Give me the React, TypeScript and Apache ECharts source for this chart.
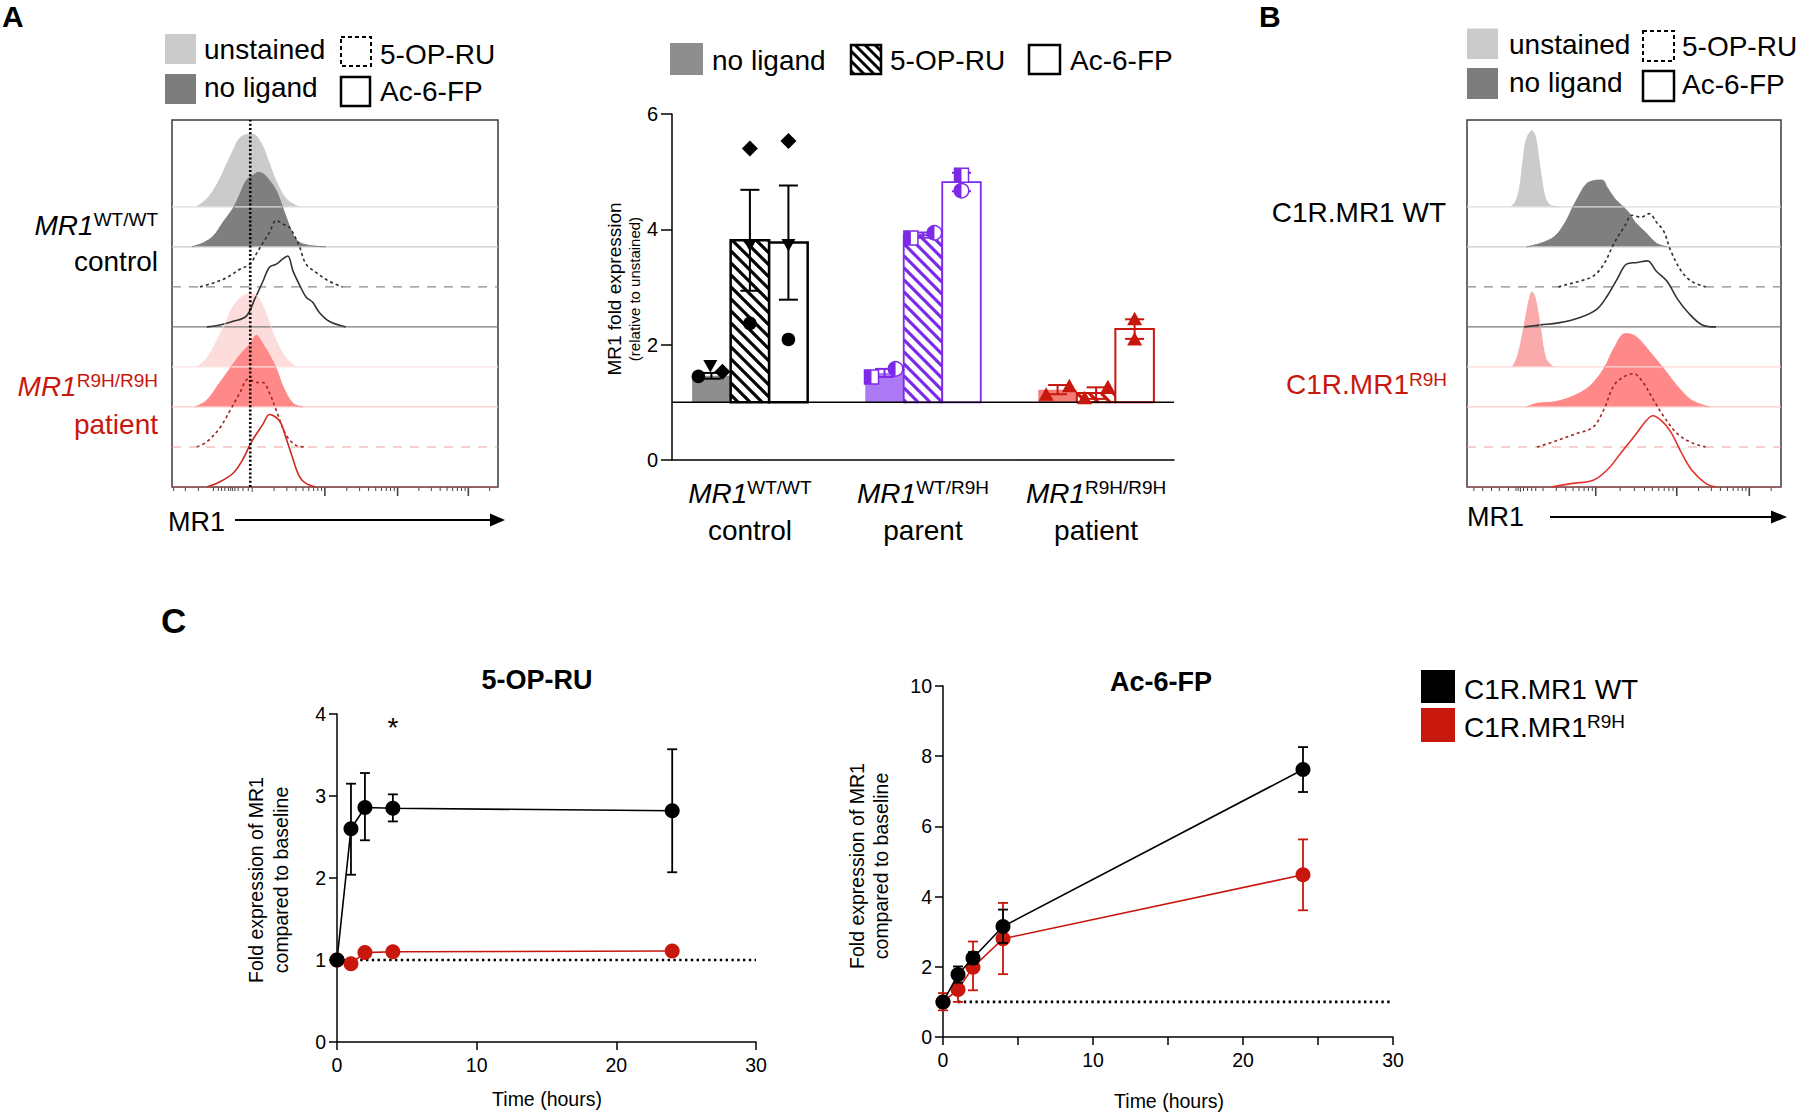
import React, { useEffect, useRef } from 'react';
import * as echarts from 'echarts';

const FONT = '"Liberation Sans", Arial, Helvetica, sans-serif';
const RED = '#c8170d';
const PURPLE = '#7d2ae8';

// ---------------- Panel A : flow histograms (x = position on MR1 logicle axis 0-100, h = height in lane units)
const aUnstainedX = [7.6, 10.7, 13.7, 16.8, 18.8, 20.8, 23.4, 24.9, 25.9, 27.9, 29.9, 32.0, 35.0, 38.1, 39.1];
const aUnstainedH = [0, 0.2, 0.55, 1.07, 1.42, 1.72, 1.81, 1.81, 1.77, 1.5, 1.07, 0.63, 0.2, 0.03, 0];
const aNoLigandX = [6.1, 9.6, 12.7, 15.7, 18.8, 20.8, 22.8, 24.9, 26.4, 27.9, 29.9, 32.0, 34.0, 36.0, 38.1, 41.1, 47.2];
const aNoLigandH = [0, 0.1, 0.27, 0.62, 0.97, 1.31, 1.66, 1.79, 1.86, 1.83, 1.66, 1.4, 0.97, 0.53, 0.18, 0.05, 0];
const aOpruX = [8.6, 12.7, 16.8, 20.8, 23.9, 25.9, 27.9, 29.9, 32.0, 34.0, 36.0, 37.6, 39.1, 41.1, 44.2, 48.2, 52.3];
const aOpruH = [0, 0.1, 0.23, 0.44, 0.57, 0.83, 1.1, 1.36, 1.66, 1.57, 1.49, 1.27, 1.01, 0.57, 0.36, 0.14, 0];
const aAc6fpX = [10.7, 14.7, 18.8, 22.8, 25.4, 27.9, 29.9, 32.0, 34.0, 35.5, 37.1, 39.1, 41.1, 43.1, 45.2, 48.2, 53.3];
const aAc6fpH = [0, 0.05, 0.14, 0.27, 0.7, 1.14, 1.49, 1.57, 1.7, 1.77, 1.4, 1.05, 0.75, 0.62, 0.36, 0.14, 0];
const aR9hUnstainedX = [7.6, 10.7, 13.7, 16.8, 18.8, 21.8, 23.9, 25.9, 27.9, 29.9, 32.0, 35.0, 38.1];
const aR9hUnstainedH = [0, 0.22, 0.65, 1.17, 1.52, 1.78, 1.83, 1.78, 1.52, 1.09, 0.65, 0.22, 0];
const aR9hNoLigandX = [7.1, 10.7, 14.7, 17.8, 20.8, 23.9, 25.9, 27.9, 29.9, 32.0, 34.0, 37.1, 40.1];
const aR9hNoLigandH = [0, 0.17, 0.61, 0.96, 1.3, 1.57, 1.79, 1.57, 1.3, 0.96, 0.52, 0.09, 0];
const aR9hOpruX = [7.6, 10.7, 14.7, 17.8, 20.8, 23.4, 25.9, 27.9, 29.9, 32.0, 35.0, 38.1, 41.1];
const aR9hOpruH = [0, 0.13, 0.48, 0.91, 1.35, 1.7, 1.61, 1.61, 1.35, 0.91, 0.3, 0.04, 0];
const aR9hAc6fpX = [10.7, 14.7, 18.8, 21.8, 24.4, 27.9, 29.9, 33.0, 35.0, 37.1, 39.1, 41.1, 44.2];
const aR9hAc6fpH = [0, 0.13, 0.35, 0.7, 1.13, 1.57, 1.81, 1.65, 1.22, 0.7, 0.26, 0.09, 0];
const aDottedRef = 24;
const aLinearTicks = [0.5, 4.1, 8.1, 12.7, 14.2, 15.2, 16.2, 17.3, 18.0, 18.6, 19.3, 20.3, 21.8, 23.4];
const aDecades = [24.6, 46.9, 69.2, 90.9];
const aDecadeWidths = [22.3, 22.3, 21.7, 21.7];
const aMajorTicks = [46.9, 69.2, 90.9];

// ---------------- Panel B : flow histograms
const bUnstainedX = [14.0, 15.6, 16.8, 17.9, 19.0, 20.7, 21.8, 22.9, 24.0, 25.1, 26.8, 29.1];
const bUnstainedH = [0, 0.15, 0.5, 1.19, 1.71, 1.9, 1.75, 1.19, 0.58, 0.19, 0.03, 0];
const bNoLigandX = [19.0, 23.5, 27.9, 31.3, 33.5, 35.8, 38.0, 40.2, 43.0, 44.7, 46.9, 49.2, 51.4, 53.6, 57.0, 60.3, 63.7];
const bNoLigandH = [0, 0.09, 0.26, 0.61, 0.96, 1.3, 1.57, 1.65, 1.67, 1.48, 1.22, 1.04, 0.87, 0.61, 0.35, 0.09, 0];
const bOpruX = [29.1, 31.3, 35.8, 40.2, 43.6, 46.9, 50.3, 52.5, 55.3, 58.1, 60.3, 62.6, 64.8, 68.2, 71.5, 76.0];
const bOpruH = [0, 0.05, 0.14, 0.27, 0.57, 1.1, 1.53, 1.79, 1.74, 1.83, 1.62, 1.4, 0.92, 0.4, 0.14, 0];
const bAc6fpX = [17.9, 23.5, 29.1, 35.8, 41.3, 44.7, 48.0, 50.8, 54.2, 57.5, 60.3, 63.7, 67.0, 70.4, 74.9, 79.3];
const bAc6fpH = [0, 0.05, 0.1, 0.23, 0.44, 0.78, 1.22, 1.57, 1.61, 1.65, 1.39, 1.14, 0.7, 0.36, 0.05, 0];
const bR9hUnstainedX = [14.5, 16.2, 17.9, 19.6, 20.7, 21.8, 23.5, 25.1, 27.4];
const bR9hUnstainedH = [0, 0.3, 0.91, 1.61, 1.87, 1.7, 0.91, 0.22, 0];
const bR9hNoLigandX = [19.0, 22.3, 27.9, 33.5, 39.1, 43.6, 46.9, 50.3, 52.5, 54.7, 58.1, 62.6, 67.0, 71.5, 77.1];
const bR9hNoLigandH = [0, 0.09, 0.13, 0.26, 0.52, 0.96, 1.48, 1.83, 1.81, 1.7, 1.39, 0.96, 0.52, 0.17, 0];
const bR9hOpruX = [22.3, 26.8, 34.6, 40.2, 43.6, 46.9, 50.3, 53.1, 55.9, 59.2, 62.6, 67.0, 71.5, 76.0];
const bR9hOpruH = [0, 0.11, 0.33, 0.5, 0.94, 1.55, 1.77, 1.83, 1.63, 1.2, 0.77, 0.33, 0.11, 0];
const bR9hAc6fpX = [26.8, 33.5, 40.2, 44.7, 49.2, 53.6, 57.0, 59.2, 62.0, 64.8, 68.2, 71.5, 76.0, 79.3];
const bR9hAc6fpH = [0, 0.09, 0.17, 0.43, 0.87, 1.3, 1.65, 1.78, 1.65, 1.39, 0.87, 0.43, 0.09, 0];
const bLinearTicks = [2.2, 5.0, 7.8, 10.3, 13.2, 15.6, 16.3, 18.0, 19.3, 20.6, 21.9];
const bDecades = [17.0, 41.0, 66.8, 89.9];
const bDecadeWidths = [24.0, 25.8, 23.1, 23.1];
const bMajorTicks = [41.0, 66.8, 89.9];

// ---------------- Panel A : bar chart
const barGroups = ['control', 'parent', 'patient'];
const barGenotypes = ['WT/WT', 'WT/R9H', 'R9H/R9H'];
const barNoLigand = [1.46, 1.51, 1.22];
const barOpru = [3.81, 3.9, 1.16];
const barAc6fp = [3.77, 4.82, 2.27];
const semNoLigand = [0.05, 0.07, 0.08];
const semOpru = [0.875, 0.045, 0.1];
const semAc6fp = [0.99, 0.16, 0.17];
// one value per donor, in the order of donorSymbols
const dotsNoLigand = [[1.45, 1.63, 1.53], [1.44, 1.58], [1.13, 1.28]];
const dotsOpru = [[2.37, 3.73, 5.4], [3.85, 3.94], [1.07, 1.26]];
const dotsAc6fp = [[2.09, 3.73, 5.53], [4.94, 4.67], [2.44, 2.09]];
const jitNoLigand = [[-0.075, -0.006, 0.064], [-0.075, 0.064], [-0.066, 0.068]];
const jitOpru = [[0, 0, 0], [-0.07, 0.066], [-0.066, 0.068]];
const jitAc6fp = [[0, 0, 0], [0, 0], [0, 0]];
const donorSymbols = [['circle', 'triangleDown', 'diamond'], ['halfSquare', 'halfCircle'], ['triangle', 'triangle']];
const FOLD_BASE = 1;

// ---------------- Panel C : time courses
const timeHours = [0, 1, 2, 4, 24];
const opruWT = [1.0, 2.6, 2.86, 2.85, 2.82];
const opruWTLow = [1.0, 2.04, 2.46, 2.69, 2.07];
const opruWTHigh = [1.0, 3.15, 3.28, 3.02, 3.57];
const opruR9H = [1.0, 0.955, 1.09, 1.1, 1.11];
const opruR9HLow = [1.0, 0.93, 1.06, 1.07, 1.08];
const opruR9HHigh = [1.0, 0.98, 1.12, 1.13, 1.14];
const acWT = [1.0, 1.78, 2.25, 3.15, 7.62];
const acWTLow = [0.95, 1.55, 2.08, 2.68, 6.98];
const acWTHigh = [1.05, 2.01, 2.42, 3.63, 8.26];
const acR9H = [1.0, 1.35, 1.99, 2.8, 4.62];
const acR9HLow = [0.76, 1.0, 1.33, 1.79, 3.61];
const acR9HHigh = [1.25, 1.55, 2.72, 3.82, 5.63];
const starTime = 4;
const starValue = 3.91;
const refLeft = [[0, 1], [30, 1]];
const refRight = [[1, 1], [30, 1]];

// ---------------- layout constants
const HIST_X_MAX = 100;
const HIST_Y_MAX = 9.17;
const BAR_SLOT = 0.2225;
const BAR_X_MIN = -0.45;
const BAR_X_MAX = 2.45;

const SYMBOL_CODE: Record<string, number> = { circle: 0, triangleDown: 1, diamond: 2, halfSquare: 3, halfCircle: 4, triangle: 5 };
const groupLine = ['#000000', PURPLE, RED];
const groupNoLigandFill = ['#8e8e8e', '#ad7af6', '#f47c78'];
const groupStroke = [2.5, 1.8, 2];

function hatch(x0: number, y0: number, w: number, h: number, spacing: number, color: string, lw: number) {
  const out: any[] = [];
  const cMin = y0 - (x0 + w);
  const cMax = y0 + h - x0;
  for (let c = Math.ceil(cMin / spacing) * spacing; c <= cMax; c += spacing) {
    const xs = Math.max(x0, y0 - c);
    const xe = Math.min(x0 + w, y0 + h - c);
    if (xe > xs) out.push({ type: 'line', shape: { x1: xs, y1: xs + c, x2: xe, y2: xe + c }, style: { stroke: color, lineWidth: lw } });
  }
  return out;
}

function logicleTicks(linear: number[], decades: number[], widths: number[], majors: number[]) {
  const t: number[][] = [];
  linear.forEach((v) => t.push([v, 4, 1]));
  decades.forEach((d, i) => {
    t.push([d, majors.includes(d) ? 9 : 5, majors.includes(d) ? 1.6 : 1]);
    for (let m = 2; m <= 9; m++) {
      const v = d + Math.log10(m) * widths[i];
      if (v < HIST_X_MAX) t.push([v, 4, 1]);
    }
  });
  return t;
}

function histSeries(xi: number, yi: number, curves: { xs: number[]; hs: number[]; st: any }[]) {
  const out: any[] = [];
  curves.forEach((c, i) => {
    const lane = 7 - i;
    const st = c.st;
    out.push({
      type: 'line', xAxisIndex: xi, yAxisIndex: yi, silent: true, symbol: 'none',
      data: [[0, lane], [HIST_X_MAX, lane]],
      lineStyle: { color: st.base, width: 1.2, type: st.baseDash || 'solid' },
    });
    out.push({
      type: 'line', xAxisIndex: xi, yAxisIndex: yi, silent: true, symbol: 'none', smooth: 0.35,
      data: c.xs.map((x, k) => [x, lane + c.hs[k]]),
      lineStyle: st.fill ? { color: st.fill, width: 1 } : { color: st.line, width: 1.6, type: st.dash || 'solid' },
      areaStyle: st.fill ? { color: st.fill, opacity: 1, origin: lane } : undefined,
    });
  });
  return out;
}

function tickSeries(xi: number, yi: number, ticks: number[][]) {
  return {
    type: 'custom', xAxisIndex: xi, yAxisIndex: yi, clip: false, silent: true, data: ticks,
    renderItem: (p: any, api: any) => {
      const pt = api.coord([api.value(0), 0]);
      return { type: 'line', shape: { x1: pt[0], y1: pt[1], x2: pt[0], y2: pt[1] + api.value(1) }, style: { stroke: '#444', lineWidth: api.value(2) } };
    },
  };
}

function errSeries(xi: number, yi: number, ts: number[], lo: number[], hi: number[], color: string, cap: number, z: number) {
  return {
    type: 'custom', xAxisIndex: xi, yAxisIndex: yi, clip: false, silent: true, z,
    data: ts.map((t, i) => [t, lo[i], hi[i]]),
    renderItem: (p: any, api: any) => {
      const a = api.coord([api.value(0), api.value(1)]);
      const b = api.coord([api.value(0), api.value(2)]);
      const s = { stroke: color, lineWidth: 1.8 };
      return {
        type: 'group', children: [
          { type: 'line', shape: { x1: a[0], y1: a[1], x2: b[0], y2: b[1] }, style: s },
          { type: 'line', shape: { x1: a[0] - cap / 2, y1: a[1], x2: a[0] + cap / 2, y2: a[1] }, style: s },
          { type: 'line', shape: { x1: b[0] - cap / 2, y1: b[1], x2: b[0] + cap / 2, y2: b[1] }, style: s },
        ],
      };
    },
  };
}

function lineSeries(xi: number, yi: number, ts: number[], vs: number[], color: string, z: number) {
  return {
    type: 'line', xAxisIndex: xi, yAxisIndex: yi, silent: true, z,
    data: ts.map((t, i) => [t, vs[i]]),
    symbol: 'circle', symbolSize: 15,
    itemStyle: { color, borderWidth: 0 },
    lineStyle: { color, width: 1.6 },
  };
}

function gText(text: string, x: number, y: number, o: any = {}) {
  return {
    type: 'text', x, y, rotation: o.rotation || 0, silent: true, z: 100,
    style: {
      text, x: 0, y: 0, fill: o.color || '#000', fontSize: o.size || 28, fontFamily: FONT,
      fontWeight: o.weight || 'normal', fontStyle: o.italic ? 'italic' : 'normal',
      align: o.align || 'left', verticalAlign: o.va || 'middle',
      textAlign: o.align || 'left', textVerticalAlign: o.va || 'middle',
      rich: o.rich,
    },
  };
}

function supRich(color: string, big: number, small: number) {
  return {
    it: { fontSize: big, fontStyle: 'italic', fontFamily: FONT, fill: color, color, lineHeight: big + 2 },
    n: { fontSize: big, fontFamily: FONT, fill: color, color, lineHeight: big + 2 },
    sup: { fontSize: small, fontFamily: FONT, fill: color, color, verticalAlign: 'top', lineHeight: small + 3 },
  };
}

function gRect(x: number, y: number, w: number, h: number, style: any) {
  return { type: 'rect', shape: { x, y, width: w, height: h }, style, silent: true, z: 100 };
}

function buildOption() {
  const stA = [
    { fill: '#cbcbcb', base: '#dcdcdc' },
    { fill: '#7f7f7f', base: '#c9c9c9' },
    { line: '#2e2e2e', dash: [3, 3], base: '#8a8a8a', baseDash: [9, 8] },
    { line: '#333333', base: '#7a7a7a' },
    { fill: '#fddcdc', base: '#fde4e4' },
    { fill: '#ff8888', base: '#fcc9c9' },
    { line: '#a3241c', dash: [3, 3], base: '#eea0a0', baseDash: [9, 8] },
    { line: '#cc2a20', base: '#e06060' },
  ];
  const stB = stA.map((s, i) => (i === 4 ? { fill: '#faaaaa', base: '#fcd6d6' } : i === 7 ? { line: '#e2332b', base: '#e06060' } : s));

  const curvesA = [
    [aUnstainedX, aUnstainedH], [aNoLigandX, aNoLigandH], [aOpruX, aOpruH], [aAc6fpX, aAc6fpH],
    [aR9hUnstainedX, aR9hUnstainedH], [aR9hNoLigandX, aR9hNoLigandH], [aR9hOpruX, aR9hOpruH], [aR9hAc6fpX, aR9hAc6fpH],
  ].map((c, i) => ({ xs: c[0], hs: c[1], st: stA[i] }));
  const curvesB = [
    [bUnstainedX, bUnstainedH], [bNoLigandX, bNoLigandH], [bOpruX, bOpruH], [bAc6fpX, bAc6fpH],
    [bR9hUnstainedX, bR9hUnstainedH], [bR9hNoLigandX, bR9hNoLigandH], [bR9hOpruX, bR9hOpruH], [bR9hAc6fpX, bR9hAc6fpH],
  ].map((c, i) => ({ xs: c[0], hs: c[1], st: stB[i] }));

  // bar chart data
  const conds = [barNoLigand, barOpru, barAc6fp];
  const sems = [semNoLigand, semOpru, semAc6fp];
  const dots = [dotsNoLigand, dotsOpru, dotsAc6fp];
  const jits = [jitNoLigand, jitOpru, jitAc6fp];
  const barData: number[][] = [];
  const errData: number[][] = [];
  const dotData: number[][] = [];
  barGroups.forEach((_, g) => {
    conds.forEach((vals, c) => {
      const x = g + (c - 1) * BAR_SLOT;
      barData.push([x, vals[g], c, g]);
      errData.push([x, vals[g], sems[c][g], g]);
      dots[c][g].forEach((v, k) => dotData.push([x + jits[c][g][k], v, SYMBOL_CODE[donorSymbols[g][k]], g]));
    });
  });

  const axisLine = { show: true, onZero: false, lineStyle: { color: '#000', width: 1.5 } };
  const axisTick = (len: number) => ({ show: true, length: len, lineStyle: { color: '#000', width: 1.5 } });
  const lbl = (size: number, margin: number) => ({ fontSize: size, margin, color: '#000', fontFamily: FONT });
  const hidden = (gi: number, min: number, max: number) => ({ gridIndex: gi, type: 'value', min, max, show: false });

  const series: any[] = [
    ...histSeries(0, 0, curvesA),
    tickSeries(0, 0, logicleTicks(aLinearTicks, aDecades, aDecadeWidths, aMajorTicks)),
    {
      type: 'line', xAxisIndex: 0, yAxisIndex: 0, silent: true, symbol: 'none', z: 5,
      data: [[aDottedRef, 0], [aDottedRef, HIST_Y_MAX]],
      lineStyle: { color: '#000', width: 2.6, type: [2, 2.2] },
    },
    ...histSeries(2, 2, curvesB),
    tickSeries(2, 2, logicleTicks(bLinearTicks, bDecades, bDecadeWidths, bMajorTicks)),
    // bars
    {
      type: 'custom', xAxisIndex: 1, yAxisIndex: 1, clip: false, silent: true, data: barData,
      renderItem: (p: any, api: any) => {
        const x = api.value(0), v = api.value(1), c = api.value(2), g = api.value(3);
        const top = api.coord([x, v]);
        const bot = api.coord([x, FOLD_BASE]);
        const w = api.size([BAR_SLOT, 0])[0];
        const x0 = top[0] - w / 2, y0 = top[1], h = bot[1] - top[1];
        const ch: any[] = [];
        if (c === 0) {
          ch.push({ type: 'rect', shape: { x: x0, y: y0, width: w, height: h }, style: { fill: groupNoLigandFill[g] } });
        } else {
          ch.push({ type: 'rect', shape: { x: x0, y: y0, width: w, height: h }, style: { fill: '#fff' } });
          if (c === 1) ch.push(...hatch(x0, y0, w, h, 12, groupLine[g], 3.2));
          ch.push({ type: 'rect', shape: { x: x0, y: y0, width: w, height: h }, style: { fill: 'none', stroke: groupLine[g], lineWidth: groupStroke[g] } });
        }
        return { type: 'group', children: ch };
      },
    },
    {
      type: 'line', xAxisIndex: 1, yAxisIndex: 1, silent: true, symbol: 'none', z: 3,
      data: [[BAR_X_MIN, FOLD_BASE], [BAR_X_MAX, FOLD_BASE]],
      lineStyle: { color: '#000', width: 1.5 },
    },
    {
      type: 'custom', xAxisIndex: 1, yAxisIndex: 1, clip: false, silent: true, data: errData, z: 4,
      renderItem: (p: any, api: any) => {
        const x = api.value(0), m = api.value(1), s = api.value(2), g = api.value(3);
        const a = api.coord([x, m - s]);
        const b = api.coord([x, m + s]);
        const st = { stroke: groupLine[g], lineWidth: 2 };
        const cap = 19;
        return {
          type: 'group', children: [
            { type: 'line', shape: { x1: a[0], y1: a[1], x2: b[0], y2: b[1] }, style: st },
            { type: 'line', shape: { x1: a[0] - cap / 2, y1: a[1], x2: a[0] + cap / 2, y2: a[1] }, style: st },
            { type: 'line', shape: { x1: b[0] - cap / 2, y1: b[1], x2: b[0] + cap / 2, y2: b[1] }, style: st },
          ],
        };
      },
    },
    {
      type: 'custom', xAxisIndex: 1, yAxisIndex: 1, clip: false, silent: true, data: dotData, z: 5,
      renderItem: (p: any, api: any) => {
        const pt = api.coord([api.value(0), api.value(1)]);
        const sym = api.value(2), g = api.value(3);
        const col = groupLine[g];
        const cx = pt[0], cy = pt[1];
        if (sym === 0) return { type: 'circle', shape: { cx, cy, r: 6.8 }, style: { fill: col } };
        if (sym === 1) return { type: 'polygon', shape: { points: [[cx - 7, cy - 6], [cx + 7, cy - 6], [cx, cy + 6.5]] }, style: { fill: col } };
        if (sym === 2) return { type: 'polygon', shape: { points: [[cx, cy - 8], [cx + 8, cy], [cx, cy + 8], [cx - 8, cy]] }, style: { fill: col } };
        if (sym === 3) return {
          type: 'group', children: [
            { type: 'rect', shape: { x: cx - 7, y: cy - 7, width: 14, height: 14 }, style: { fill: '#fff', stroke: col, lineWidth: 1.5 } },
            { type: 'rect', shape: { x: cx - 7, y: cy - 7, width: 7, height: 14 }, style: { fill: col } },
          ],
        };
        if (sym === 4) return {
          type: 'group', children: [
            { type: 'circle', shape: { cx, cy, r: 7.2 }, style: { fill: '#fff', stroke: col, lineWidth: 1.5 } },
            { type: 'sector', shape: { cx, cy, r0: 0, r: 7.2, startAngle: Math.PI / 2, endAngle: (3 * Math.PI) / 2, clockwise: true }, style: { fill: col } },
          ],
        };
        return { type: 'polygon', shape: { points: [[cx, cy - 7.5], [cx + 7.5, cy + 6], [cx - 7.5, cy + 6]] }, style: { fill: col } };
      },
    },
    {
      type: 'custom', xAxisIndex: 1, yAxisIndex: 1, clip: false, silent: true,
      data: barGroups.map((_, g) => [g, 0]),
      renderItem: (p: any, api: any) => {
        const g = p.dataIndex;
        const pt = api.coord([api.value(0), 0]);
        return {
          type: 'group', children: [
            {
              type: 'text', x: pt[0], y: pt[1] + 33,
              style: { text: `{it|MR1}{sup|${barGenotypes[g]}}`, rich: supRich('#000', 28, 19), align: 'center', verticalAlign: 'middle', textAlign: 'center', textVerticalAlign: 'middle', fontSize: 28, fontFamily: FONT, fill: '#000' },
            },
            {
              type: 'text', x: pt[0], y: pt[1] + 70,
              style: { text: barGroups[g], align: 'center', verticalAlign: 'middle', textAlign: 'center', textVerticalAlign: 'middle', fontSize: 28, fontFamily: FONT, fill: '#000' },
            },
          ],
        };
      },
    },
    // C left
    { type: 'line', xAxisIndex: 3, yAxisIndex: 3, silent: true, symbol: 'none', z: 2, data: refLeft, lineStyle: { color: '#000', width: 2.6, type: [2.4, 3.4] } },
    errSeries(3, 3, timeHours, opruR9HLow, opruR9HHigh, RED, 10, 3),
    lineSeries(3, 3, timeHours, opruR9H, RED, 4),
    errSeries(3, 3, timeHours, opruWTLow, opruWTHigh, '#000', 10, 5),
    lineSeries(3, 3, timeHours, opruWT, '#000', 6),
    {
      type: 'custom', xAxisIndex: 3, yAxisIndex: 3, clip: false, silent: true, data: [[starTime, starValue]],
      renderItem: (p: any, api: any) => {
        const pt = api.coord([api.value(0), api.value(1)]);
        return { type: 'text', x: pt[0], y: pt[1] + 6, style: { text: '*', fontSize: 28, fontFamily: FONT, fill: '#000', align: 'center', verticalAlign: 'middle', textAlign: 'center', textVerticalAlign: 'middle' } };
      },
    },
    // C right
    { type: 'line', xAxisIndex: 4, yAxisIndex: 4, silent: true, symbol: 'none', z: 2, data: refRight, lineStyle: { color: '#000', width: 2.6, type: [2.4, 3.4] } },
    errSeries(4, 4, timeHours, acR9HLow, acR9HHigh, RED, 10, 3),
    lineSeries(4, 4, timeHours, acR9H, RED, 4),
    errSeries(4, 4, timeHours, acWTLow, acWTHigh, '#000', 10, 5),
    lineSeries(4, 4, timeHours, acWT, '#000', 6),
  ];

  const legendHatch = hatch(851, 45, 30, 29, 10, '#000', 3).map((e) => ({ ...e, silent: true, z: 100 }));

  const graphic: any[] = [
    gText('A', 2, 16, { size: 30, weight: 'bold' }),
    gText('B', 1259, 16, { size: 30, weight: 'bold' }),
    gText('C', 161, 620, { size: 35, weight: 'bold' }),
    // A histogram legend
    gRect(165, 34, 31, 30, { fill: '#cbcbcb' }),
    gRect(165, 74, 31, 30, { fill: '#7d7d7d' }),
    gRect(341, 37, 30, 29, { fill: 'none', stroke: '#000', lineWidth: 2, lineDash: [4, 3] }),
    gRect(341, 77, 29, 29, { fill: 'none', stroke: '#000', lineWidth: 2.5 }),
    gText('unstained', 204, 49),
    gText('no ligand', 204, 87),
    gText('5-OP-RU', 380, 54),
    gText('Ac-6-FP', 380, 91),
    gText('{it|MR1}{sup|WT/WT}', 158, 225, { align: 'right', rich: supRich('#000', 28, 19) }),
    gText('control', 158, 261, { align: 'right' }),
    gText('{it|MR1}{sup|R9H/R9H}', 158, 386, { align: 'right', color: RED, rich: supRich(RED, 28, 19) }),
    gText('patient', 158, 424, { align: 'right', color: RED }),
    gText('MR1', 168, 522, { size: 27 }),
    { type: 'line', shape: { x1: 235, y1: 520, x2: 494, y2: 520 }, style: { stroke: '#000', lineWidth: 2.2 }, silent: true, z: 100 },
    { type: 'polygon', shape: { points: [[490, 513.5], [505, 520], [490, 526.5]] }, style: { fill: '#000' }, silent: true, z: 100 },
    // B histogram legend
    gRect(1467, 28.5, 31, 30.5, { fill: '#cbcbcb' }),
    gRect(1467, 68, 31, 31, { fill: '#7d7d7d' }),
    gRect(1643, 31, 31, 30, { fill: 'none', stroke: '#000', lineWidth: 2, lineDash: [4, 3] }),
    gRect(1643, 71, 31, 30, { fill: 'none', stroke: '#000', lineWidth: 2.5 }),
    gText('unstained', 1509, 44),
    gText('no ligand', 1509, 82),
    gText('5-OP-RU', 1682, 46),
    gText('Ac-6-FP', 1682, 84.5),
    gText('C1R.MR1 WT', 1446, 212.5, { align: 'right' }),
    gText('{n|C1R.MR1}{sup|R9H}', 1447, 384.5, { align: 'right', color: RED, rich: supRich(RED, 28, 19) }),
    gText('MR1', 1467, 517, { size: 27 }),
    { type: 'line', shape: { x1: 1550, y1: 517, x2: 1775, y2: 517 }, style: { stroke: '#000', lineWidth: 2.2 }, silent: true, z: 100 },
    { type: 'polygon', shape: { points: [[1771, 510.5], [1787, 517], [1771, 523.5]] }, style: { fill: '#000' }, silent: true, z: 100 },
    // bar chart legend + axis title
    gRect(670, 43, 33, 32, { fill: '#8e8e8e' }),
    gRect(851, 45, 30, 29, { fill: '#fff' }),
    ...legendHatch,
    gRect(851, 45, 30, 29, { fill: 'none', stroke: '#000', lineWidth: 2.5 }),
    gRect(1029, 45, 31, 29, { fill: 'none', stroke: '#000', lineWidth: 2.5 }),
    gText('no ligand', 712, 60),
    gText('5-OP-RU', 890, 60),
    gText('Ac-6-FP', 1070, 60),
    gText('MR1 fold expression', 614, 289, { size: 19, align: 'center', rotation: Math.PI / 2 }),
    gText('(relative to unstained)', 634, 289, { size: 15, align: 'center', rotation: Math.PI / 2 }),
    // panel C titles and axis names
    gText('5-OP-RU', 537, 680, { size: 27, weight: 'bold', align: 'center' }),
    gText('Ac-6-FP', 1161, 682, { size: 27, weight: 'bold', align: 'center' }),
    gText('Fold expression of MR1', 256, 880, { size: 19.5, align: 'center', rotation: Math.PI / 2 }),
    gText('compared to baseline', 281, 880, { size: 19.5, align: 'center', rotation: Math.PI / 2 }),
    gText('Fold expression of MR1', 857, 866, { size: 19.5, align: 'center', rotation: Math.PI / 2 }),
    gText('compared to baseline', 881, 866, { size: 19.5, align: 'center', rotation: Math.PI / 2 }),
    gText('Time (hours)', 547, 1099, { size: 19.5, align: 'center' }),
    gText('Time (hours)', 1169, 1101, { size: 19.5, align: 'center' }),
    // panel C legend
    gRect(1421, 670, 34, 33, { fill: '#000' }),
    gRect(1421, 708, 34, 34, { fill: RED }),
    gText('C1R.MR1 WT', 1464, 689),
    gText('{n|C1R.MR1}{sup|R9H}', 1464, 727, { rich: supRich('#000', 28, 19) }),
  ];

  return {
    animation: false,
    backgroundColor: '#ffffff',
    textStyle: { fontFamily: FONT },
    grid: [
      { left: 172, top: 120, width: 326, height: 367, show: true, borderColor: '#3a3a3a', borderWidth: 1.5, backgroundColor: 'transparent' },
      { left: 672, top: 114, width: 502, height: 346 },
      { left: 1467, top: 120, width: 314, height: 367, show: true, borderColor: '#3a3a3a', borderWidth: 1.5, backgroundColor: 'transparent' },
      { left: 337, top: 714, width: 419, height: 328 },
      { left: 943, top: 686, width: 450, height: 351 },
    ],
    xAxis: [
      hidden(0, 0, HIST_X_MAX),
      { gridIndex: 1, type: 'value', min: BAR_X_MIN, max: BAR_X_MAX, axisLine, axisTick: { show: false }, axisLabel: { show: false }, splitLine: { show: false } },
      hidden(2, 0, HIST_X_MAX),
      { gridIndex: 3, type: 'value', min: 0, max: 30, interval: 10, axisLine, axisTick: axisTick(8), axisLabel: lbl(19.5, 13), splitLine: { show: false } },
      {
        gridIndex: 4, type: 'value', min: 0, max: 30, interval: 5, axisLine, axisTick: axisTick(8),
        axisLabel: { ...lbl(19.5, 13), formatter: (v: number) => (v % 10 === 0 ? String(v) : '') }, splitLine: { show: false },
      },
    ],
    yAxis: [
      hidden(0, 0, HIST_Y_MAX),
      { gridIndex: 1, type: 'value', min: 0, max: 6, interval: 2, axisLine, axisTick: axisTick(11), axisLabel: lbl(20, 14), splitLine: { show: false } },
      hidden(2, 0, HIST_Y_MAX),
      { gridIndex: 3, type: 'value', min: 0, max: 4, interval: 1, axisLine, axisTick: axisTick(8), axisLabel: lbl(19.5, 11), splitLine: { show: false } },
      { gridIndex: 4, type: 'value', min: 0, max: 10, interval: 2, axisLine, axisTick: axisTick(8), axisLabel: lbl(19.5, 11), splitLine: { show: false } },
    ],
    series,
    graphic: { elements: graphic },
  };
}

export default function App() {
  const ref = useRef<HTMLDivElement>(null);
  useEffect(() => {
    if (!ref.current) return;
    const chart = echarts.init(ref.current, null, { renderer: 'svg' });
    chart.setOption(buildOption() as any);
    return () => chart.dispose();
  }, []);
  return <div ref={ref} style={{ position: 'fixed', left: 0, top: 0, width: 1800, height: 1113, background: '#fff' }} />;
}
